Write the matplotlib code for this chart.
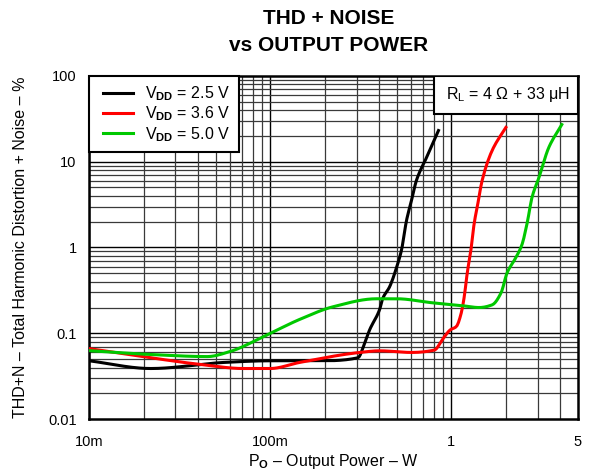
import numpy as np
import matplotlib
matplotlib.use("Agg")
import matplotlib.pyplot as plt
from matplotlib.ticker import FixedLocator, LogLocator, NullFormatter
from matplotlib.patches import Rectangle
from matplotlib.lines import Line2D
from matplotlib.legend_handler import HandlerLine2D

plt.rcParams['font.family'] = ['Liberation Sans', 'DejaVu Sans']
plt.rcParams['mathtext.fontset'] = 'custom'
plt.rcParams['mathtext.rm'] = 'Liberation Sans'
plt.rcParams['mathtext.it'] = 'Liberation Sans:italic'
plt.rcParams['mathtext.bf'] = 'Liberation Sans:bold'

# Data
p_25 = [0.01, 0.0219, 0.0566, 0.1, 0.2, 0.305, 0.333, 0.354, 0.402, 0.418, 0.456, 0.499,
        0.531, 0.566, 0.603, 0.642, 0.73, 0.849]
thd_25 = [0.048, 0.039, 0.046, 0.048, 0.048, 0.052, 0.078, 0.11, 0.19, 0.255, 0.348, 0.59,
          0.94, 2.08, 3.56, 6.07, 11.2, 23.0]

p_36 = [0.01, 0.0219, 0.0412, 0.0711, 0.1, 0.146, 0.313, 0.402, 0.603, 0.807, 0.893, 0.987,
        1.065, 1.135, 1.178, 1.224, 1.288, 1.337, 1.389, 1.48, 1.68, 2.0]
thd_36 = [0.0665, 0.052, 0.0435, 0.039, 0.039, 0.046, 0.06, 0.0627, 0.06, 0.064, 0.085, 0.11,
          0.12, 0.174, 0.267, 0.506, 1.0, 1.92, 2.95, 6.07, 13.5, 25.0]

p_50 = [0.01, 0.0219, 0.045, 0.0603, 0.094, 0.146, 0.222, 0.387, 0.499, 0.787, 1.149, 1.425,
        1.68, 1.88, 2.03, 2.28, 2.45, 2.62, 2.79, 3.05, 3.45, 4.07]
thd_50 = [0.063, 0.0568, 0.0537, 0.0617, 0.094, 0.146, 0.204, 0.253, 0.253, 0.227, 0.21, 0.2,
          0.215, 0.296, 0.506, 0.776, 1.07, 1.92, 3.86, 6.6, 14.6, 27.0]

series = [
    (p_25, thd_25, 'black', r'V$_{\mathbf{DD}}$ = 2.5 V'),
    (p_36, thd_36, '#ff0000', r'V$_{\mathbf{DD}}$ = 3.6 V'),
    (p_50, thd_50, '#00c800', r'V$_{\mathbf{DD}}$ = 5.0 V'),
]

x_ticks = [0.01, 0.1, 1, 5]
x_ticklabels = ['10m', '100m', '1', '5']
y_ticks = [0.01, 0.1, 1, 10, 100]
y_ticklabels = ['0.01', '0.1', '1', '10', '100']


def smooth(x, y, n=300):
    lx = np.log10(x)
    ly = np.log10(y)
    # monotone cubic (PCHIP) interpolation in log space for a smooth line
    h = np.diff(lx)
    d = np.diff(ly) / h
    m = np.zeros_like(lx)
    m[0] = d[0]
    m[-1] = d[-1]
    for i in range(1, len(lx) - 1):
        if d[i - 1] * d[i] <= 0:
            m[i] = 0
        else:
            w1 = 2 * h[i] + h[i - 1]
            w2 = h[i] + 2 * h[i - 1]
            m[i] = (w1 + w2) / (w1 / d[i - 1] + w2 / d[i])
    xs = np.linspace(lx[0], lx[-1], n)
    idx = np.clip(np.searchsorted(lx, xs) - 1, 0, len(lx) - 2)
    t = (xs - lx[idx]) / h[idx]
    h00 = 2 * t**3 - 3 * t**2 + 1
    h10 = t**3 - 2 * t**2 + t
    h01 = -2 * t**3 + 3 * t**2
    h11 = t**3 - t**2
    ys = h00 * ly[idx] + h10 * h[idx] * m[idx] + h01 * ly[idx + 1] + h11 * h[idx] * m[idx + 1]
    return 10**xs, 10**ys


fig = plt.figure(figsize=(5.95, 4.75), dpi=100)
ax = fig.add_axes([0.1496, 0.1173, 0.8218, 0.7233])
ax.set_xscale('log')
ax.set_yscale('log')
ax.set_xlim(0.01, 5)
ax.set_ylim(0.01, 100)

ax.xaxis.set_major_locator(FixedLocator(x_ticks))
ax.set_xticklabels(x_ticklabels)
ax.yaxis.set_major_locator(FixedLocator(y_ticks))
ax.set_yticklabels(y_ticklabels)
ax.xaxis.set_minor_locator(LogLocator(base=10, subs=np.arange(2, 10)))
ax.yaxis.set_minor_locator(LogLocator(base=10, subs=np.arange(2, 10)))
ax.xaxis.set_minor_formatter(NullFormatter())
ax.yaxis.set_minor_formatter(NullFormatter())
ax.tick_params(which='both', length=0, labelsize=10.5)
ax.tick_params(axis='x', pad=11)
ax.tick_params(axis='y', pad=9)

# grid: decades in black, subdivisions in dark grey
for d in [0.01, 0.1, 1]:
    ax.axvline(d, color='black', lw=1.0, zorder=1)
for d in [0.1, 1, 10]:
    ax.axhline(d, color='black', lw=1.0, zorder=1)
ax.grid(which='minor', color='#3a3a3a', lw=0.9, zorder=1)

handles = []
for x, y, c, lab in series:
    xs, ys = smooth(x, y)
    line, = ax.plot(xs, ys, color=c, lw=2.2, label=lab, zorder=3)
    handles.append(line)

for s in ax.spines.values():
    s.set_linewidth(1.8)
    s.set_color('black')

leg = ax.legend(handles=handles, loc='upper left', fontsize=11.5, frameon=True, fancybox=False,
                borderaxespad=0, handlelength=2.54, borderpad=0.545, labelspacing=0.1,
                handletextpad=0.42, numpoints=2,
                handler_map={Line2D: HandlerLine2D(marker_pad=0.33, numpoints=2)})
leg.get_frame().set_edgecolor('black')
leg.get_frame().set_linewidth(1.5)
leg.get_frame().set_alpha(1)
leg.set_zorder(5)

ax.add_patch(Rectangle((0.7055, 0.8885), 0.2945, 0.1115, transform=ax.transAxes,
                       facecolor='white', edgecolor='black', lw=1.5, zorder=6))
ax.text(0.857, 0.9453, r'R$_\mathrm{L}$ = 4 Ω + 33 μH', transform=ax.transAxes,
        ha='center', va='center', fontsize=11.5, zorder=7)

fig.text(0.552, 0.960, 'THD + NOISE', ha='center', va='center', fontsize=15, fontweight='bold')
fig.text(0.552, 0.905, 'vs OUTPUT POWER', ha='center', va='center', fontsize=15, fontweight='bold')

ax.set_xlabel(r'P$_{\mathbf{O}}$ – Output Power – W', fontsize=11.5, va='center')
ax.set_ylabel('THD+N – Total Harmonic Distortion + Noise – %', fontsize=11.5)
ax.xaxis.set_label_coords(0.5, -0.124)
ax.yaxis.set_label_coords(-0.125, 0.5)

fig.savefig('out.png', dpi=100)
